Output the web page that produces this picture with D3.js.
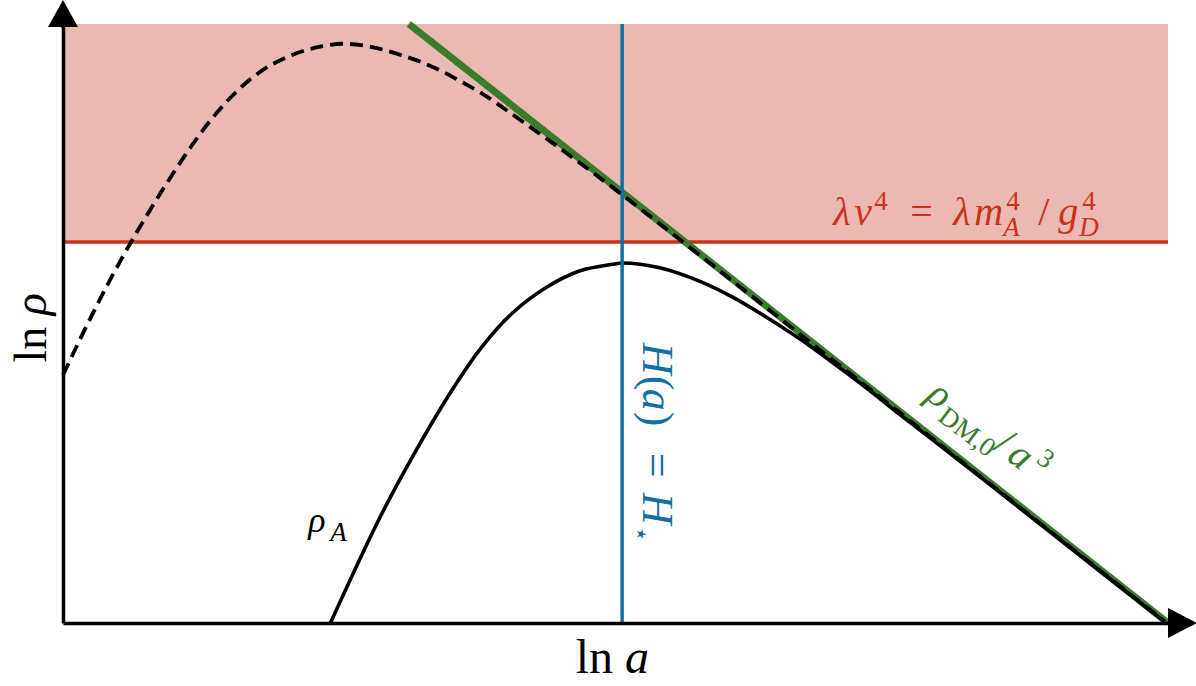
<!DOCTYPE html>
<html>

<head>
    <script src="https://d3js.org/d3.v7.min.js"></script>
    <style>
        body {
            margin: 0;
            background: #ffffff;
        }

        text {
            font-family: 'Liberation Serif', serif;
        }
    </style>
    <title>rho vs a</title>
</head>

<body>
    <svg id="chart" width="1196" height="686"></svg>

    <script>
        // ln a (x) and ln rho (y), arbitrary units
        var dashedX = [0, 0.15, 0.30, 0.45, 0.61, 0.79, 0.97, 1.15, 1.33, 1.51, 1.69, 1.85, 2.03, 2.21, 2.35,
            2.53, 2.72, 2.90, 3.08, 3.26, 3.44, 3.62, 3.80, 3.93, 4.16, 4.56, 5.06, 5.77, 6.67, 7.58, 8.48, 9.39, 9.97];
        var dashedY = [4.14, 4.72, 5.28, 5.81, 6.34, 6.90, 7.43, 7.93, 8.38, 8.76, 9.07, 9.28, 9.45, 9.57, 9.63,
            9.67, 9.64, 9.57, 9.47, 9.35, 9.20, 9.02, 8.83, 8.67, 8.37, 7.84, 7.15, 6.13, 4.82, 3.50, 2.19, 0.87, 0.03];

        var solidX = [2.42, 2.87, 3.17, 3.48, 3.77, 4.07, 4.38, 4.68, 4.98, 5.06, 5.40, 5.77, 6.06, 6.37,
            6.67, 6.97, 7.28, 7.58, 8.03, 8.48, 9.39, 9.97];
        var solidY = [0, 1.77, 2.80, 3.77, 4.56, 5.18, 5.61, 5.88, 5.99, 6.01, 5.93, 5.70, 5.44, 5.10,
            4.74, 4.34, 3.91, 3.47, 2.83, 2.18, 0.86, 0.02];

        var dmLineX = [3.13, 10.0];
        var dmLineY = [10.0, 0.0];

        var lambdaV4 = 6.36;   // red horizontal limit
        var hStar = 5.06;      // blue vertical line

        var canvas = d3.select("#chart");
        var plotLeft = 63, plotRight = 1168, plotTop = 24, plotBottom = 623;

        var xScale = d3.scaleLinear()
            .domain([0, 10])
            .range([plotLeft, plotRight]);
        var yScale = d3.scaleLinear()
            .domain([0, 10])
            .range([plotBottom, plotTop]);

        var line = d3.line()
            .x(function (d) { return xScale(d[0]); })
            .y(function (d) { return yScale(d[1]); })
            .curve(d3.curveCatmullRom.alpha(0.5));

        var red = "#cd3119";
        var blue = "#136ea3";
        var green = "#3b7b2e";

        // shaded region above the limit
        canvas.append("rect")
            .attr("x", xScale(0))
            .attr("y", yScale(10))
            .attr("width", xScale(10) - xScale(0))
            .attr("height", yScale(lambdaV4) - yScale(10))
            .style("fill", "#eab9b2");

        canvas.append("line")
            .attr("x1", xScale(0))
            .attr("x2", xScale(10))
            .attr("y1", yScale(lambdaV4))
            .attr("y2", yScale(lambdaV4))
            .style("stroke", red)
            .style("stroke-width", "3.5px");

        canvas.append("path")
            .datum(d3.zip(dmLineX, dmLineY))
            .attr("d", d3.line().x(function (d) { return xScale(d[0]); }).y(function (d) { return yScale(d[1]); }))
            .style("fill", "none")
            .style("stroke", green)
            .style("stroke-width", "7px");

        canvas.append("path")
            .datum(d3.zip(solidX, solidY))
            .attr("d", line)
            .style("fill", "none")
            .style("stroke", "#000")
            .style("stroke-width", "3.6px");

        canvas.append("line")
            .attr("x1", xScale(hStar))
            .attr("x2", xScale(hStar))
            .attr("y1", yScale(0))
            .attr("y2", yScale(10))
            .style("stroke", blue)
            .style("stroke-width", "3.5px");

        canvas.append("path")
            .datum(d3.zip(dashedX, dashedY))
            .attr("d", line)
            .style("fill", "none")
            .style("stroke", "#000")
            .style("stroke-width", "3.8px")
            .style("stroke-dasharray", "13,7");

        // axes, no ticks
        var xAxis = d3.axisBottom(xScale).tickValues([]).tickSizeOuter(0);
        var yAxis = d3.axisLeft(yScale).tickValues([]).tickSizeOuter(0);

        canvas.append("g")
            .attr("transform", "translate(0," + plotBottom + ")")
            .call(xAxis)
            .select(".domain")
            .style("stroke", "#000")
            .style("stroke-width", "3.5px");

        canvas.append("g")
            .attr("transform", "translate(" + plotLeft + ",0)")
            .call(yAxis)
            .select(".domain")
            .style("stroke", "#000")
            .style("stroke-width", "3.5px");

        canvas.append("line")
            .attr("x1", plotLeft).attr("x2", plotLeft)
            .attr("y1", plotTop).attr("y2", plotTop + 4)
            .style("stroke", "#000")
            .style("stroke-width", "3.5px");

        // arrow heads
        canvas.append("path")
            .attr("d", "M" + plotLeft + "," + (plotTop - 24) + " L" + (plotLeft - 15) + "," + (plotTop + 3) +
                " L" + (plotLeft + 15) + "," + (plotTop + 3) + " Z")
            .style("fill", "#000");
        canvas.append("path")
            .attr("d", "M" + (plotRight + 29) + "," + plotBottom + " L" + plotRight + "," + (plotBottom - 15) +
                " L" + plotRight + "," + (plotBottom + 15) + " Z")
            .style("fill", "#000");

        // math text helper: parts are [text, italic, baseline shift, size, x offset]
        function mathText(g, parts, color, size) {
            var t = g.append("text").style("fill", color).style("font-size", size + "px");
            var cur = 0;
            parts.forEach(function (p) {
                var shift = p[2] || 0;
                var ts = t.append("tspan")
                    .text(p[0])
                    .attr("dy", shift - cur)
                    .style("font-style", p[1] ? "italic" : "normal")
                    .style("font-size", (p[3] || size) + "px");
                if (p[4] !== undefined) ts.attr("x", p[4]);
                cur = shift;
            });
            return t;
        }

        mathText(canvas.append("g").attr("transform", "translate(" + xScale(6.97) + "," + yScale(6.64) + ")"),
            [["λ", true, 0, 40, 0], ["v", true, 0, 40, 21], ["4", false, -15, 27, 41],
            ["=", false, 0, 40, 77], ["λ", true, 0, 40, 120], ["m", true, 0, 40, 141],
            ["4", false, -15, 27, 173], ["A", true, 11, 27, 170], ["/", false, 0, 40, 205],
            ["g", true, 0, 40, 225], ["4", false, -15, 27, 249], ["D", true, 11, 27, 246]], red, 40);

        mathText(canvas.append("g").attr("transform", "translate(" + (xScale(hStar) + 21) + "," + yScale(4.68) + ") rotate(90)"),
            [["H", true, 0, 44, 0], ["(", false, 0, 44, 33], ["a", true, 0, 44, 46], [")", false, 0, 44, 69],
            ["=", false, 0, 44, 110], ["H", true, 0, 44, 150], ["⋆", false, 10, 26, 183]], blue, 44);

        mathText(canvas.append("g").attr("transform", "translate(" + xScale(7.80) + "," + yScale(3.75) + ") rotate(37)"),
            [["ρ", true, 0, 40, 0], ["DM,0", false, 10, 27, 22], ["/", false, 0, 42, 84], ["a", true, 0, 40, 101],
            ["3", false, -16, 27, 126]], green, 40);

        mathText(canvas.append("g").attr("transform", "translate(" + xScale(2.22) + "," + yScale(1.52) + ")"),
            [["ρ", true, 0, 36, 0], ["A", true, 9, 27, 22]], "#000", 36);

        mathText(canvas.append("g").attr("transform", "translate(" + xScale(4.64) + "," + (plotBottom + 50) + ")"),
            [["ln ", false], ["a", true]], "#000", 48);

        mathText(canvas.append("g").attr("transform", "translate(" + (plotLeft - 17) + "," + yScale(4.35) + ") rotate(-90)"),
            [["ln ", false], ["ρ", true]], "#000", 46);
    </script>
</body>

</html>
